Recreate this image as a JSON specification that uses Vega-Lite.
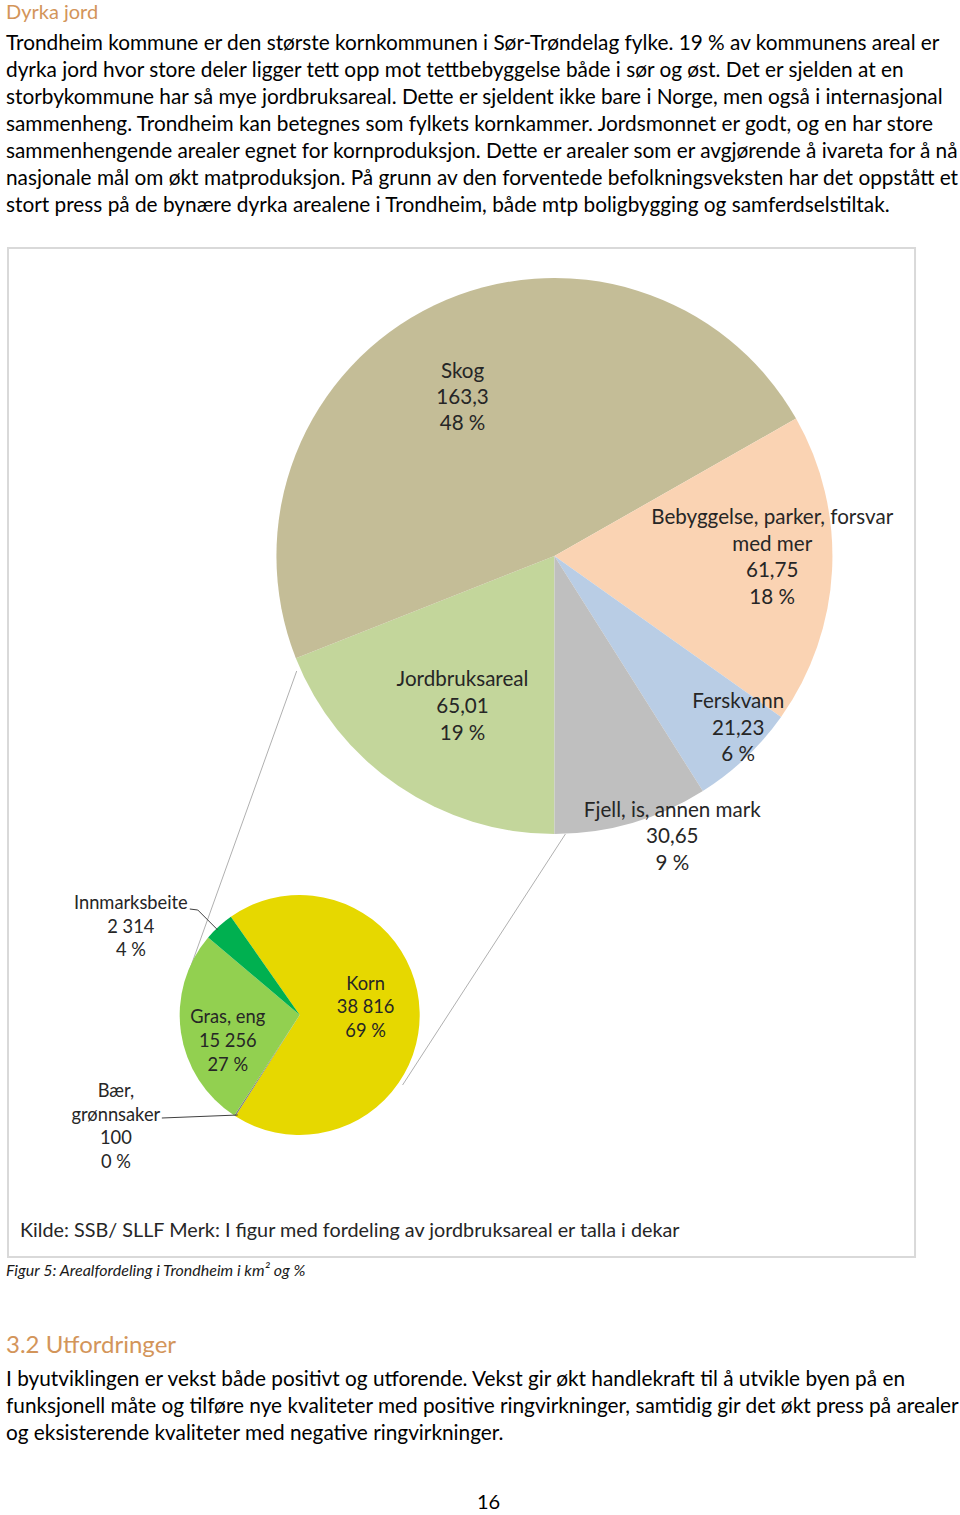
{
  "$schema": "https://vega.github.io/schema/vega-lite/v6.json",
  "width": 960,
  "height": 1515,
  "autosize": {"type": "fit", "contains": "padding"},
  "padding": 0,
  "background": "white",
  "config": {"view": {"stroke": null}, "font": "Lato"},
  "datasets": {
    "box": [{"x": 8, "y": 248, "x2": 916, "y2": 1257}],
    "connectors": [
      {"x": 297, "y": 671, "x2": 189, "y2": 972},
      {"x": 566, "y": 834, "x2": 403, "y2": 1085}
    ],
    "leaders": [
      {"x": 190, "y": 909, "x2": 198, "y2": 910},
      {"x": 198, "y": 910, "x2": 218, "y2": 930},
      {"x": 162, "y": 1118, "x2": 238, "y2": 1115}
    ],
    "main": [
      {"name": "Jordbruksareal", "value": 65.01, "ord": 1},
      {"name": "Skog", "value": 163.3, "ord": 2},
      {"name": "Bebyggelse, parker, forsvar med mer", "value": 61.75, "ord": 3},
      {"name": "Ferskvann", "value": 21.23, "ord": 4},
      {"name": "Fjell, is, annen mark", "value": 30.65, "ord": 5}
    ],
    "small": [
      {"name": "Korn", "value": 38816, "ord": 1},
      {"name": "Bær, grønnsaker", "value": 100, "ord": 2},
      {"name": "Gras, eng", "value": 15256, "ord": 3},
      {"name": "Innmarksbeite", "value": 2314, "ord": 4}
    ],
    "headings": [
      {"x": 6, "y": 13, "text": "Dyrka jord", "size": "h2"},
      {"x": 6, "y": 1346, "text": "3.2 Utfordringer", "size": "h1"}
    ],
    "body": [
      {"x": 6, "y": 44, "text": "Trondheim kommune er den største kornkommunen i Sør-Trøndelag fylke. 19 % av kommunens areal er"},
      {"x": 6, "y": 71, "text": "dyrka jord hvor store deler ligger tett opp mot tettbebyggelse både i sør og øst. Det er sjelden at en"},
      {"x": 6, "y": 98, "text": "storbykommune har så mye jordbruksareal. Dette er sjeldent ikke bare i Norge, men også i internasjonal"},
      {"x": 6, "y": 125, "text": "sammenheng. Trondheim kan betegnes som fylkets kornkammer. Jordsmonnet er godt, og en har store"},
      {"x": 6, "y": 152, "text": "sammenhengende arealer egnet for kornproduksjon. Dette er arealer som er avgjørende å ivareta for å nå"},
      {"x": 6, "y": 179, "text": "nasjonale mål om økt matproduksjon. På grunn av den forventede befolkningsveksten har det oppstått et"},
      {"x": 6, "y": 206, "text": "stort press på de bynære dyrka arealene i Trondheim, både mtp boligbygging og samferdselstiltak."},
      {"x": 6, "y": 1380, "text": "I byutviklingen er vekst både positivt og utforende. Vekst gir økt handlekraft til å utvikle byen på en"},
      {"x": 6, "y": 1407, "text": "funksjonell måte og tilføre nye kvaliteter med positive ringvirkninger, samtidig gir det økt press på arealer"},
      {"x": 6, "y": 1434, "text": "og eksisterende kvaliteter med negative ringvirkninger."}
    ],
    "mainLabels": [
      {"x": 463, "y": 372, "text": "Skog"},
      {"x": 463, "y": 398, "text": "163,3"},
      {"x": 463, "y": 424, "text": "48 %"},
      {"x": 773, "y": 518, "text": "Bebyggelse, parker, forsvar"},
      {"x": 773, "y": 545, "text": "med mer"},
      {"x": 773, "y": 571, "text": "61,75"},
      {"x": 773, "y": 598, "text": "18 %"},
      {"x": 463, "y": 680, "text": "Jordbruksareal"},
      {"x": 463, "y": 707, "text": "65,01"},
      {"x": 463, "y": 734, "text": "19 %"},
      {"x": 739, "y": 702, "text": "Ferskvann"},
      {"x": 739, "y": 729, "text": "21,23"},
      {"x": 739, "y": 755, "text": "6 %"},
      {"x": 673, "y": 811, "text": "Fjell, is, annen mark"},
      {"x": 673, "y": 837, "text": "30,65"},
      {"x": 673, "y": 864, "text": "9 %"}
    ],
    "source": [
      {"x": 20, "y": 1231, "text": "Kilde: SSB/ SLLF Merk: I figur med fordeling av jordbruksareal er talla i dekar"}
    ],
    "smallLabels": [
      {"x": 131, "y": 904, "text": "Innmarksbeite"},
      {"x": 131, "y": 928, "text": "2 314"},
      {"x": 131, "y": 951, "text": "4 %"},
      {"x": 366, "y": 985, "text": "Korn"},
      {"x": 366, "y": 1008, "text": "38 816"},
      {"x": 366, "y": 1032, "text": "69 %"},
      {"x": 228, "y": 1018, "text": "Gras, eng"},
      {"x": 228, "y": 1042, "text": "15 256"},
      {"x": 228, "y": 1066, "text": "27 %"},
      {"x": 116, "y": 1092, "text": "Bær,"},
      {"x": 116, "y": 1116, "text": "grønnsaker"},
      {"x": 116, "y": 1139, "text": "100"},
      {"x": 116, "y": 1163, "text": "0 %"}
    ],
    "caption": [{"x": 6, "y": 1271, "text": "Figur 5: Arealfordeling i Trondheim i km² og %"}],
    "page": [{"x": 489, "y": 1503, "text": "16"}]
  },
  "layer": [
    {
      "data": {"name": "box"},
      "mark": {"type": "rect", "fill": "white", "stroke": "#d9d9d9", "strokeWidth": 2},
      "encoding": {
        "x": {"field": "x", "type": "quantitative", "scale": {"domain": [0, 960], "nice": false, "zero": false}, "axis": null},
        "x2": {"field": "x2"},
        "y": {"field": "y", "type": "quantitative", "scale": {"domain": [0, 1515], "nice": false, "zero": false, "reverse": true}, "axis": null},
        "y2": {"field": "y2"}
      }
    },
    {
      "data": {"name": "connectors"},
      "mark": {"type": "rule", "stroke": "#b0b0b0", "strokeWidth": 1},
      "encoding": {
        "x": {"field": "x", "type": "quantitative", "scale": {"domain": [0, 960], "nice": false, "zero": false}, "axis": null},
        "x2": {"field": "x2"},
        "y": {"field": "y", "type": "quantitative", "scale": {"domain": [0, 1515], "nice": false, "zero": false, "reverse": true}, "axis": null},
        "y2": {"field": "y2"}
      }
    },
    {
      "data": {"name": "main"},
      "transform": [{"stack": "value", "groupby": [], "sort": [{"field": "ord", "order": "ascending"}], "as": ["t0", "t1"]}],
      "mark": {"type": "arc", "outerRadius": 278},
      "encoding": {
        "x": {"datum": 555, "type": "quantitative", "stack": null, "scale": {"domain": [0, 960], "nice": false, "zero": false}, "axis": null},
        "y": {"datum": 556, "type": "quantitative", "stack": null, "scale": {"domain": [0, 1515], "nice": false, "zero": false, "reverse": true}, "axis": null},
        "theta": {"field": "t1", "type": "quantitative", "scale": {"zero": true, "nice": false, "range": [3.14159265, 9.42477796]}},
        "theta2": {"field": "t0"},
        "color": {"field": "name", "type": "nominal", "legend": null,
          "scale": {"domain": ["Jordbruksareal", "Skog", "Bebyggelse, parker, forsvar med mer", "Ferskvann", "Fjell, is, annen mark"],
                    "range": ["#c3d69b", "#c4bd97", "#fad3b3", "#b9cde5", "#bfbfbf"]}}
      }
    },
    {
      "data": {"name": "small"},
      "transform": [{"stack": "value", "groupby": [], "sort": [{"field": "ord", "order": "ascending"}], "as": ["t0", "t1"]}],
      "mark": {"type": "arc", "outerRadius": 120},
      "encoding": {
        "x": {"datum": 300, "type": "quantitative", "stack": null, "scale": {"domain": [0, 960], "nice": false, "zero": false}, "axis": null},
        "y": {"datum": 1015, "type": "quantitative", "stack": null, "scale": {"domain": [0, 1515], "nice": false, "zero": false, "reverse": true}, "axis": null},
        "theta": {"field": "t1", "type": "quantitative", "scale": {"zero": true, "nice": false, "range": [5.6723, 11.9555]}},
        "theta2": {"field": "t0"},
        "color": {"field": "name", "type": "nominal", "legend": null,
          "scale": {"domain": ["Korn", "Bær, grønnsaker", "Gras, eng", "Innmarksbeite"],
                    "range": ["#e6d800", "#7f7f7f", "#92d050", "#00b050"]}}
      }
    },
    {
      "data": {"name": "leaders"},
      "mark": {"type": "rule", "stroke": "#404040", "strokeWidth": 1},
      "encoding": {
        "x": {"field": "x", "type": "quantitative", "scale": {"domain": [0, 960], "nice": false, "zero": false}, "axis": null},
        "x2": {"field": "x2"},
        "y": {"field": "y", "type": "quantitative", "scale": {"domain": [0, 1515], "nice": false, "zero": false, "reverse": true}, "axis": null},
        "y2": {"field": "y2"}
      }
    },
    {
      "data": {"name": "headings"},
      "mark": {"type": "text", "align": "left", "baseline": "middle", "fontWeight": "normal", "color": "#d3955a"},
      "encoding": {
        "x": {"field": "x", "type": "quantitative", "scale": {"domain": [0, 960], "nice": false, "zero": false}, "axis": null},
        "y": {"field": "y", "type": "quantitative", "scale": {"domain": [0, 1515], "nice": false, "zero": false, "reverse": true}, "axis": null},
        "text": {"field": "text"},
        "size": {"field": "size", "type": "nominal", "legend": null, "scale": {"domain": ["h1", "h2"], "range": [24, 20]}}
      }
    },
    {
      "data": {"name": "body"},
      "mark": {"type": "text", "align": "left", "baseline": "middle", "fontSize": 20.8, "color": "#000000"},
      "encoding": {
        "x": {"field": "x", "type": "quantitative", "scale": {"domain": [0, 960], "nice": false, "zero": false}, "axis": null},
        "y": {"field": "y", "type": "quantitative", "scale": {"domain": [0, 1515], "nice": false, "zero": false, "reverse": true}, "axis": null},
        "text": {"field": "text"}
      }
    },
    {
      "data": {"name": "mainLabels"},
      "mark": {"type": "text", "align": "center", "baseline": "middle", "fontSize": 20.6, "color": "#262626"},
      "encoding": {
        "x": {"field": "x", "type": "quantitative", "scale": {"domain": [0, 960], "nice": false, "zero": false}, "axis": null},
        "y": {"field": "y", "type": "quantitative", "scale": {"domain": [0, 1515], "nice": false, "zero": false, "reverse": true}, "axis": null},
        "text": {"field": "text"}
      }
    },
    {
      "data": {"name": "source"},
      "mark": {"type": "text", "align": "left", "baseline": "middle", "fontSize": 19.8, "color": "#262626"},
      "encoding": {
        "x": {"field": "x", "type": "quantitative", "scale": {"domain": [0, 960], "nice": false, "zero": false}, "axis": null},
        "y": {"field": "y", "type": "quantitative", "scale": {"domain": [0, 1515], "nice": false, "zero": false, "reverse": true}, "axis": null},
        "text": {"field": "text"}
      }
    },
    {
      "data": {"name": "smallLabels"},
      "mark": {"type": "text", "align": "center", "baseline": "middle", "fontSize": 18.3, "color": "#262626"},
      "encoding": {
        "x": {"field": "x", "type": "quantitative", "scale": {"domain": [0, 960], "nice": false, "zero": false}, "axis": null},
        "y": {"field": "y", "type": "quantitative", "scale": {"domain": [0, 1515], "nice": false, "zero": false, "reverse": true}, "axis": null},
        "text": {"field": "text"}
      }
    },
    {
      "data": {"name": "caption"},
      "mark": {"type": "text", "align": "left", "baseline": "middle", "fontSize": 16, "fontStyle": "italic", "color": "#1a1a1a"},
      "encoding": {
        "x": {"field": "x", "type": "quantitative", "scale": {"domain": [0, 960], "nice": false, "zero": false}, "axis": null},
        "y": {"field": "y", "type": "quantitative", "scale": {"domain": [0, 1515], "nice": false, "zero": false, "reverse": true}, "axis": null},
        "text": {"field": "text"}
      }
    },
    {
      "data": {"name": "page"},
      "mark": {"type": "text", "align": "center", "baseline": "middle", "fontSize": 20, "color": "#000000"},
      "encoding": {
        "x": {"field": "x", "type": "quantitative", "scale": {"domain": [0, 960], "nice": false, "zero": false}, "axis": null},
        "y": {"field": "y", "type": "quantitative", "scale": {"domain": [0, 1515], "nice": false, "zero": false, "reverse": true}, "axis": null},
        "text": {"field": "text"}
      }
    }
  ],
  "resolve": {"scale": {"theta": "independent", "color": "independent"}}
}
